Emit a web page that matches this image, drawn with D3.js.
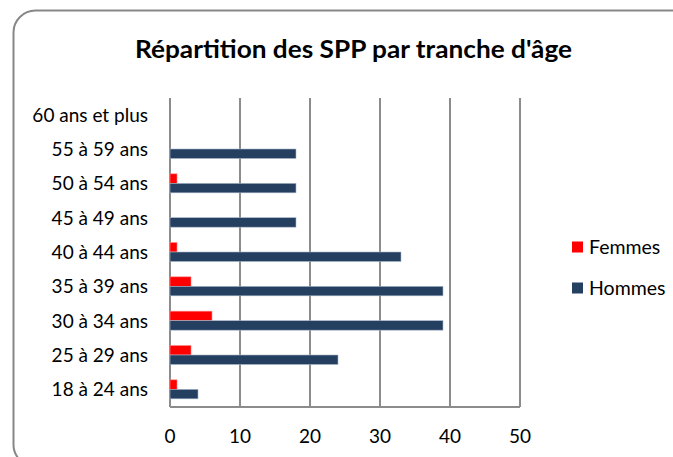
<!DOCTYPE html>
<html>
<head>
<meta charset="utf-8">
<script src="https://cdn.jsdelivr.net/npm/d3@7"></script>
<style>
body{margin:0;background:#fff;}
svg{display:block;font-family:Lato,"Open Sans",sans-serif;}
</style>
</head>
<body>
<svg></svg>
<script>
const categories = ['18 à 24 ans','25 à 29 ans','30 à 34 ans','35 à 39 ans','40 à 44 ans','45 à 49 ans','50 à 54 ans','55 à 59 ans','60 ans et plus'];
const femmes = [1,3,6,3,1,0,1,0,0];
const hommes = [4,24,39,39,33,18,18,18,0];
const seriesNames = ['Femmes','Hommes'];
const seriesColors = ['#ff0000','#243f60'];
const xTicks = [0,10,20,30,40,50];

const width = 673;
const height = 457;
const plotLeft = 170, plotRight = 520, plotTop = 98, plotBottom = 407;

var svg = d3.select('svg').attr('width', width).attr('height', height);

// outer frame
svg.append('rect')
.attr('x', 13.5).attr('y', 10.5)
.attr('width', 680).attr('height', 456)
.attr('rx', 22).attr('ry', 22)
.style('fill', '#fff').style('stroke', '#878787').style('stroke-width', 2);

svg.append('text')
.attr('x', 135).attr('y', 58)
.attr('textLength', 437).attr('lengthAdjust', 'spacingAndGlyphs')
.style('font-size', '25px').style('font-weight', 'bold')
.style('fill', '#000')
.text("Répartition des SPP par tranche d'âge");

var x = d3.scaleLinear().domain([0,50]).range([plotLeft,plotRight]);
var y = d3.scaleBand().domain(categories.slice().reverse()).range([plotTop,plotBottom]);

// gridlines
svg.append('g').selectAll('line')
.data(xTicks).enter().append('line')
.attr('x1', d => x(d)).attr('x2', d => x(d))
.attr('y1', plotTop).attr('y2', plotBottom)
.style('stroke', '#8c8c8c').style('stroke-width', 2);

svg.append('line')
.attr('x1', plotLeft).attr('x2', plotRight)
.attr('y1', plotBottom).attr('y2', plotBottom)
.style('stroke', '#8c8c8c').style('stroke-width', 2);

// bars
var barH = 9.5;
var data = categories.map((c,i) => ({cat: c, f: femmes[i], h: hommes[i]}));
var g = svg.append('g');
g.selectAll('rect.f').data(data).enter().append('rect').classed('f', true)
.attr('x', x(0)).attr('y', d => y(d.cat) + y.bandwidth()/2 - barH - 0.5)
.attr('width', d => x(d.f) - x(0)).attr('height', barH)
.style('fill', seriesColors[0]).style('stroke', d => d.f ? '#ff8a8a' : 'none').style('stroke-width', 0.6);
g.selectAll('rect.h').data(data).enter().append('rect').classed('h', true)
.attr('x', x(0)).attr('y', d => y(d.cat) + y.bandwidth()/2 - 0.5)
.attr('width', d => x(d.h) - x(0)).attr('height', barH)
.style('fill', seriesColors[1]).style('stroke', d => d.h ? '#a9b7c9' : 'none').style('stroke-width', 0.6);

// axes labels
svg.append('g').selectAll('text')
.data(categories).enter().append('text')
.attr('x', 148).attr('y', d => y(d) + y.bandwidth()/2)
.attr('dy', '0.35em').attr('text-anchor', 'end')
.style('font-size', '19px').style('fill', '#000')
.text(d => d);

svg.append('g').selectAll('text')
.data(xTicks).enter().append('text')
.attr('x', d => x(d)).attr('y', 436)
.attr('dy', '0.35em').attr('text-anchor', 'middle')
.style('font-size', '19px').style('fill', '#000')
.text(d => d);

// legend
var legend = svg.append('g');
seriesNames.forEach((s,i) => {
	var ly = 247 + i*41;
	legend.append('rect')
	.attr('x', 572).attr('y', ly - 5.5).attr('width', 11).attr('height', 11)
	.style('fill', seriesColors[i]);
	legend.append('text')
	.attr('x', 589).attr('y', ly).attr('dy', '0.35em')
	.style('font-size', '19.5px').style('fill', '#000')
	.text(s);
});
</script>
</body>
</html>
